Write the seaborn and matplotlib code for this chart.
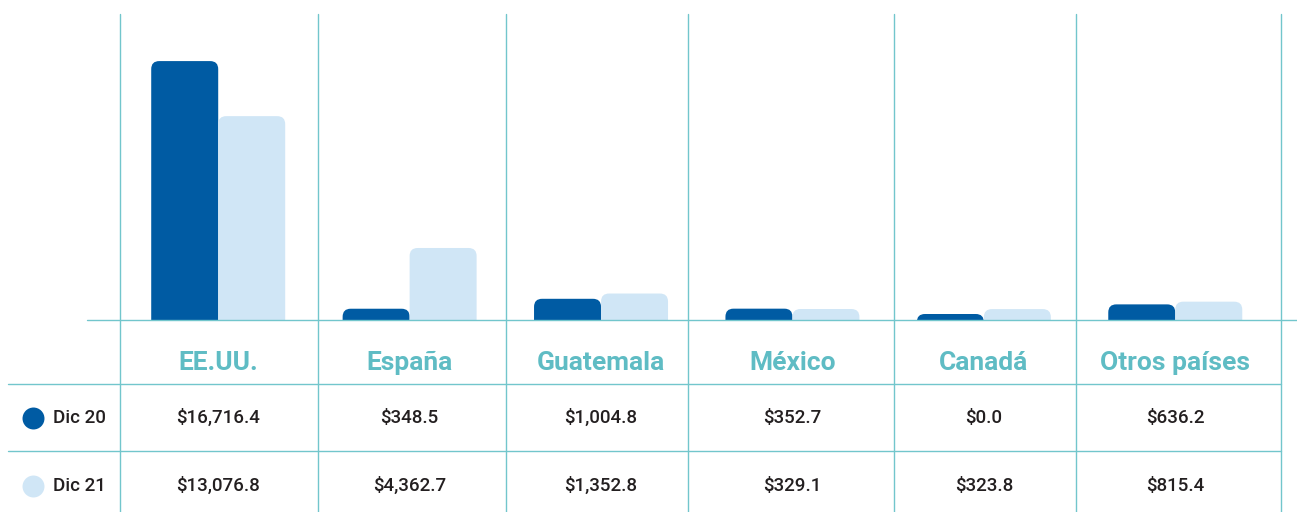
import numpy as np
import pandas as pd
import seaborn as sns
import matplotlib.pyplot as plt
from matplotlib.patches import FancyBboxPatch
from matplotlib import transforms

# data
paises = ["EE.UU.", "España", "Guatemala", "México", "Canadá", "Otros países"]
periodos = ["Dic 20", "Dic 21"]
dic20 = [16716.4, 348.5, 1004.8, 352.7, 0.0, 636.2]
dic21 = [13076.8, 4362.7, 1352.8, 329.1, 323.8, 815.4]

oscuro = "#005BA3"
claro = "#D0E6F6"
teal = "#72C6CC"
teal_txt = "#5FBCC4"
negro = "#231F20"

df = pd.DataFrame({
    "pais": paises * 2,
    "periodo": [periodos[0]] * len(paises) + [periodos[1]] * len(paises),
    "valor": dic20 + dic21,
})

sns.set_theme(style="white")
plt.rcParams["font.family"] = ["Roboto", "DejaVu Sans"]

W, H = 1297, 512
fig = plt.figure(figsize=(W / 100, H / 100), dpi=100)

# bar area: from the baseline (320 px from top) up to the top edge
ax = fig.add_axes([0, (H - 320) / H, 1, 320 / H])
sns.barplot(data=df, x="pais", y="valor", hue="periodo", order=paises,
            hue_order=periodos, palette=[oscuro, claro], width=0.7,
            saturation=1, legend=False, ax=ax)

xmin, xmax = -1.140, 5.636
ymax = 21150
ax.set_xlim(xmin, xmax)
ax.set_ylim(0, ymax)
ax.axis("off")

# swap plain bars for bars with rounded tops
ux = (xmax - xmin) / W          # x units per pixel
uy = ymax / 320                 # y units per pixel
r = 8 * ux
cap = 6 * uy
aspect = uy / ux
rects = list(ax.patches)
for p in rects:
    x, w, h = p.get_x(), p.get_width(), p.get_height()
    fc = p.get_facecolor()
    p.remove()
    ax.add_patch(FancyBboxPatch((x, -8 * uy), w, h + cap + 8 * uy,
                                boxstyle=f"round,pad=0,rounding_size={r}",
                                mutation_aspect=aspect, fc=fc, ec="none"))

# overlay for grid lines and the table, in pixel rows
tab = fig.add_axes([0, 0, 1, 1], facecolor="none")
tab.set_xlim(xmin, xmax)
tab.set_ylim(H, 0)
tab.axis("off")
mix = transforms.blended_transform_factory(tab.transAxes, tab.transData)

# column separators (pixel columns of the layout)
sep = [120, 318, 506, 688, 894, 1076, 1281]
for s in sep:
    tab.plot([s / W, s / W], [14, H], color=teal, lw=1.0, transform=mix)
tab.plot([87 / W, 1], [320, 320], color=teal, lw=1.0, transform=mix)
for yy in (384, 451):
    tab.plot([8 / W, sep[-1] / W], [yy, yy], color=teal, lw=1.0,
             transform=mix)

for i, p in enumerate(paises):
    tab.text(i, 363, p, ha="center", va="center", color=teal_txt,
             fontsize=19, fontweight="bold")
    tab.text(i, 418, f"${dic20[i]:,.1f}", ha="center", va="center",
             color=negro, fontsize=13.5, fontweight="medium")
    tab.text(i, 486, f"${dic21[i]:,.1f}", ha="center", va="center",
             color=negro, fontsize=13.5, fontweight="medium")

for yy, lab, c in ((418, periodos[0], oscuro), (486, periodos[1], claro)):
    tab.scatter([33 / W], [yy], s=250, color=c, transform=mix, zorder=3,
                linewidths=0)
    tab.text(53 / W, yy, lab, ha="left", va="center", color=negro,
             fontsize=13.5, fontweight="medium", transform=mix)

fig.savefig("out.png", dpi=100)
